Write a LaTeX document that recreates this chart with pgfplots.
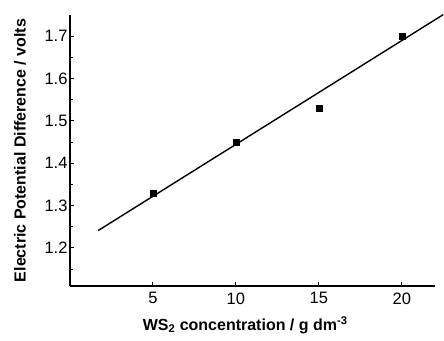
\documentclass[border=0pt]{standalone}
\usepackage{pgfplots}
\pgfplotsset{compat=1.18}
\usepackage{fontspec}
\setmainfont{Liberation Sans}
\usetikzlibrary{calc}
\begin{document}
\begin{tikzpicture}
\begin{axis}[
  scale only axis,
  width=365pt, height=271pt,
  xmin=0, xmax=22, ymin=1.11, ymax=1.75,
  axis x line*=bottom, axis y line*=left,
  axis line style={line width=1.6pt},
  xtick={5,10,15,20}, ytick={1.2,1.3,1.4,1.5,1.6,1.7},
  minor ytick={1.15,1.25,1.35,1.45,1.55,1.65},
  tick align=inside,
  major tick length=4pt, minor tick length=3pt,
  tick style={line width=1pt, black},
  yticklabel style={/pgf/number format/fixed, /pgf/number format/precision=1, /pgf/number format/fixed zerofill, xshift=1pt},
  /pgf/number format/assume math mode=true,
  ticklabel style={font=\fontsize{16.5}{18}\selectfont},
  xticklabel style={yshift=-3pt},
  xlabel={\bfseries WS\textsubscript{2} concentration / g dm\textsuperscript{-3}},
  ylabel={\bfseries Electric Potential Difference / volts},
  label style={font=\fontsize{16}{18}\selectfont},
  xlabel style={at={(axis description cs:0.48,0)}, anchor=center, yshift=-39pt},
  ylabel style={at={(axis description cs:0,0.5)}, anchor=center, yshift=50pt},
  clip=false,
]
\addplot[only marks, mark=square*, mark size=3pt, black] coordinates {
  (5,1.33) (10,1.45) (15,1.53) (20,1.70)
};
\addplot[black, line width=1.4pt] coordinates {(1.7,1.241) (22.5,1.751)};
\coordinate (O) at (rel axis cs:0,0);
\coordinate (T) at (rel axis cs:1,1);
\end{axis}
\pgfresetboundingbox
\path[use as bounding box] ($(O)+(-70pt,-54pt)$) rectangle ($(T)+(9pt,15pt)$);
\end{tikzpicture}
\end{document}
